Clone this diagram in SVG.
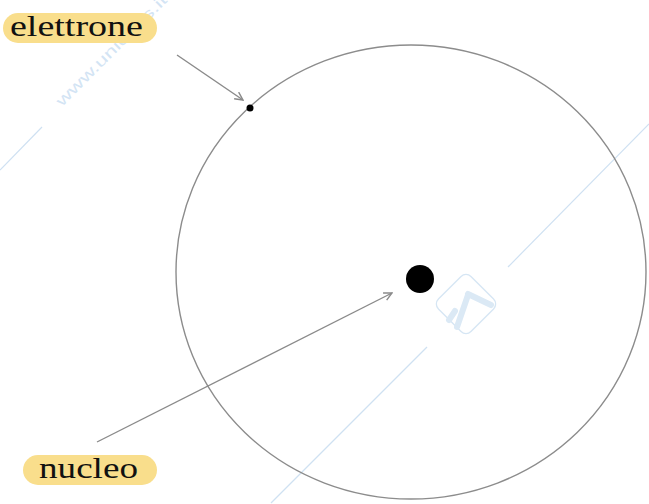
<svg xmlns="http://www.w3.org/2000/svg" width="649" height="504" viewBox="0 0 649 504">
<style>
.wm{stroke:#cfe1f2;stroke-width:1.2;fill:none}
.lbl{fill:#f9de8c}
.txt{font-family:"Liberation Serif","Times New Roman",serif;fill:#111}
.conn{stroke:#8a8a8a;stroke-width:1.4;fill:none;marker-end:url(#ah)}
</style>
<defs>
<marker id="ah" viewBox="0 0 10 10" refX="9" refY="5" markerWidth="10" markerHeight="10" markerUnits="userSpaceOnUse" orient="auto">
<path d="M1,1 L9,5 L1,9" fill="none" stroke="#8a8a8a" stroke-width="1.4"/>
</marker>
</defs>
<rect width="649" height="504" fill="#fff"/>
<g id="watermark">
<line class="wm" x1="0" y1="170" x2="42" y2="127"/>
<line class="wm" x1="508" y1="267" x2="649" y2="124"/>
<line class="wm" x1="427" y1="347" x2="271" y2="503"/>
<text x="62" y="107" transform="rotate(-45 62 107)" font-family="Liberation Sans,Arial,sans-serif" font-size="15" fill="#d3e4f4" textLength="150" lengthAdjust="spacingAndGlyphs">www.unidocs.it</text>
<rect x="443" y="281" width="46" height="46" rx="7" transform="rotate(45 466 304)" fill="none" stroke="#d6e6f4" stroke-width="1.3"/>
<g stroke="#dbe9f5" stroke-width="6" stroke-linecap="round" fill="none">
<line x1="449" y1="320" x2="455" y2="311"/>
<line x1="457" y1="327" x2="468" y2="295"/>
<line x1="468" y1="294" x2="491" y2="305"/>
</g>
</g>
<g id="orbit">
<ellipse cx="411" cy="272" rx="235" ry="227" fill="none" stroke="#8c8c8c" stroke-width="1.4"/>
</g>
<g id="nucleus">
<circle cx="420" cy="279" r="14" fill="#000"/>
</g>
<g id="electron">
<circle cx="250" cy="108" r="3.5" fill="#000"/>
</g>
<g id="label-elettrone">
<rect class="lbl" x="3" y="13" width="154" height="30" rx="15"/>
<text class="txt" x="10" y="36" font-size="30" textLength="133" lengthAdjust="spacingAndGlyphs">elettrone</text>
</g>
<g id="label-nucleo">
<rect class="lbl" x="23" y="455" width="134" height="30" rx="15"/>
<text class="txt" x="39" y="478" font-size="29" textLength="99" lengthAdjust="spacingAndGlyphs">nucleo</text>
</g>
<g id="connectors">
<line class="conn" x1="177" y1="55" x2="243" y2="100"/>
<line class="conn" x1="97" y1="442" x2="392" y2="293"/>
</g>
</svg>
